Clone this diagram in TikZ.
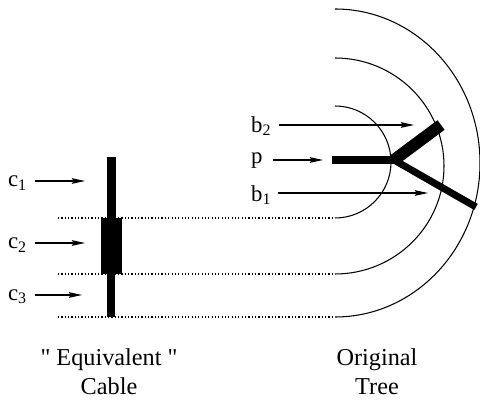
\documentclass[tikz,border=0pt]{standalone}
\usepackage{fontspec}
\setmainfont{Liberation Serif}
\usetikzlibrary{arrows.meta}

\tikzset{
    label/.style={anchor=west,inner sep=1pt,font=\fontsize{13}{15}\selectfont},
    pointer/.style={-{Stealth[length=7.5pt,width=3.2pt,inset=1pt]},line width=0.6pt},
    guide/.style={line width=0.7pt,dash pattern=on 0.7pt off 1.2pt},
    shell/.style={line width=0.6pt},
    caption/.style={align=center,font=\fontsize{13.8}{16.5}\selectfont}
}

\begin{document}
\begin{tikzpicture}[x=0.02cm,y=-0.02cm]
    \useasboundingbox (0,0) rectangle (480,411);

    % Equivalent cable.
    \fill (107,157) rectangle (116,218);
    \fill (101,218) rectangle (122,274);
    \fill (107,274) rectangle (115,317);

    % Dotted guides and the arcs round the tree.
    \draw[guide] (58,218) -- (335,218);
    \draw[guide] (58,274) -- (335,274);
    \draw[guide] (58,317) -- (335,317);
    \draw[shell] (335,218) arc (90:-90:56);
    \draw[shell] (335,274) arc[start angle=90,end angle=-90,
        x radius=109,y radius=108];
    \draw[shell] (335,317) arc[start angle=90,end angle=-90,
        x radius=145,y radius=154];

    % Original tree.
    \coordinate (fork) at (394,160);
    \draw[line width=4pt] (332,160) -- (397,160);
    \draw[line width=6.8pt] (fork) -- (441,125);
    \draw[line width=4pt] (fork) -- (476,207);

    % Labels and pointers.
    \node[label] (c1) at (6,183) {c\textsubscript{1}};
    \node[label] (c2) at (6,245) {c\textsubscript{2}};
    \node[label] (c3) at (6,297) {c\textsubscript{3}};
    \coordinate (c1tip) at (85,181);
    \coordinate (c2tip) at (85,243);
    \coordinate (c3tip) at (82,295);
    \draw[pointer] (c1.east |- c1tip) ++(6,0) -- (c1tip);
    \draw[pointer] (c2.east |- c2tip) ++(6,0) -- (c2tip);
    \draw[pointer] (c3.east |- c3tip) ++(6,0) -- (c3tip);

    \node[label] (b2) at (249,126) {b\textsubscript{2}};
    \node[label] (p) at (249,161) {p};
    \node[label] (b1) at (249,195) {b\textsubscript{1}};
    \coordinate (b2tip) at (414,125);
    \coordinate (ptip) at (323,160);
    \coordinate (b1tip) at (428,193);
    \draw[pointer] (b2.east |- b2tip) ++(5,0) -- (b2tip);
    \draw[pointer] (p.east |- ptip) ++(8,0) -- (ptip);
    \draw[pointer] (b1.east |- b1tip) ++(4,0) -- (b1tip);

    \node[caption] (cable) at (109,372)
        {\textquotedbl{} Equivalent \textquotedbl\\Cable};
    \node[caption] (tree) at (377,372) {Original\\Tree};
\end{tikzpicture}
\end{document}
